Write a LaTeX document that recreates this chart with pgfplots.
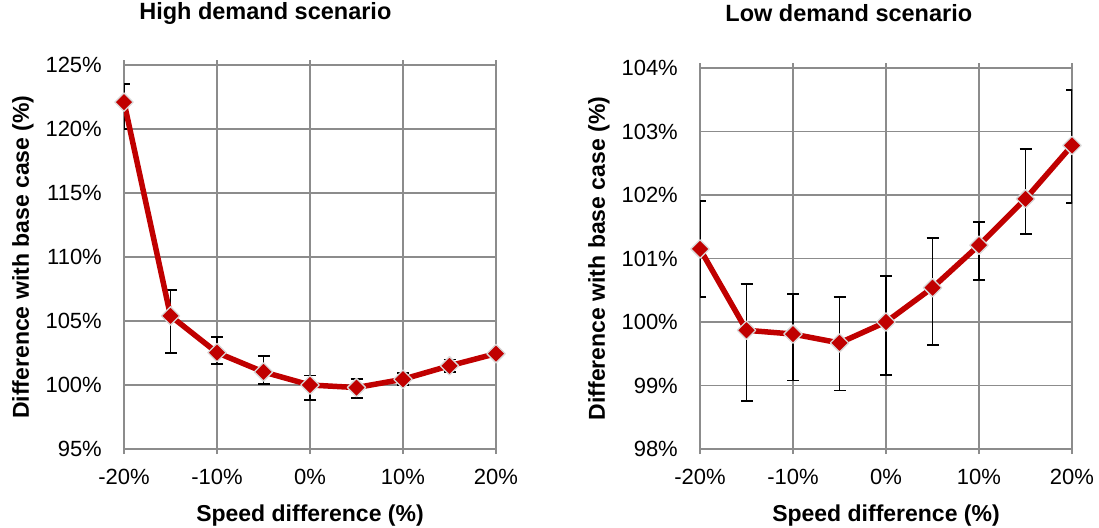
\documentclass[border=0pt]{standalone}
\usepackage{fontspec}
\setmainfont{Liberation Sans}
\usepackage{pgfplots}
\pgfplotsset{compat=1.18}
\usepackage{pgfplotstable}
\definecolor{gridgray}{HTML}{8C8C8C}
\definecolor{darkred}{HTML}{C00000}
\definecolor{markedge}{HTML}{D9D9D9}

\pgfplotstableread{
x   y      ep    em
-20 122.10 1.40  2.10
-15 105.40 2.00  2.90
-10 102.53 1.22  0.89
-5  101.02 1.22  0.94
0   100.00 0.75  1.15
5   99.80  0.64  0.82
10  100.45 0.49  0.47
15  101.50 0.50  0.50
20  102.45 0.15  0.15
}\highdata

\pgfplotstableread{
x   y      ep    em
-20 101.15 0.76  0.75
-15 99.87  0.73  1.11
-10 99.81  0.63  0.73
-5  99.67  0.72  0.75
0   100.00 0.73  0.84
5   100.54 0.78  0.90
10  101.21 0.36  0.55
15  101.94 0.79  0.56
20  102.78 0.87  0.91
}\lowdata

\pgfplotsset{
  myaxis/.style={
    scale only axis,
    width=372pt,
    anchor=south west,
    xmin=-20, xmax=20,
    xtick={-20,-10,0,10,20},
    xticklabels={-20\%,-10\%,0\%,10\%,20\%},
    grid=major,
    major grid style={gridgray, line width=1.5pt},
    axis line style={gridgray, line width=1.5pt},
    tick align=outside,
    major tick length=5pt,
    xtick style={gridgray, line width=1.5pt},
    ytick style={draw=none},
    ticklabel style={font=\fontsize{22}{26}\selectfont},
    yticklabel style={inner sep=0pt, anchor=east, xshift=-17pt},
    xticklabel style={inner sep=0pt, anchor=north, yshift=-15pt},
    xlabel={Speed difference (\%)},
    ylabel={Difference with base case (\%)},
    label style={font=\fontsize{23}{27}\selectfont\bfseries},
    xlabel style={at={([yshift=-72pt]axis description cs:0.5,0)}, anchor=base},
    ylabel style={at={([xshift=-101pt]axis description cs:0,0.5)}, anchor=center},
    title style={font=\fontsize{23.5}{27}\selectfont\bfseries, anchor=center},
  },
  errstyle/.style={only marks, mark=none, forget plot,
    error bars/.cd, y dir=both, y explicit,
    error bar style={draw=black, line width=1.8pt},
    error mark options={draw=black, line width=1.8pt, mark size=6pt, rotate=90}},
  linestyle/.style={darkred, line width=5.5pt, line join=round,
    mark=square*, mark size=6.5pt,
    mark options={fill=darkred, draw=markedge, line width=1.3pt, rotate=45}},
}

\begin{document}
\begin{tikzpicture}
\path[use as bounding box] (0,0) rectangle (1099pt,-527pt);

\begin{axis}[myaxis,
  at={(124pt,-449pt)},
  height=384pt,
  ymin=95, ymax=125,
  ytick={95,100,105,110,115,120,125},
  yticklabels={95\%,100\%,105\%,110\%,115\%,120\%,125\%},
  title={High demand scenario},
  title style={at={([yshift=46pt]axis description cs:0.38,1)}},
]
\addplot[errstyle] table[x=x, y=y, y error plus=ep, y error minus=em] {\highdata};
\addplot[linestyle] table[x=x, y=y] {\highdata};
\end{axis}

\begin{axis}[myaxis,
  at={(700pt,-449pt)},
  height=381pt,
  ymin=98, ymax=104,
  ytick={98,99,100,101,102,103,104},
  yticklabels={98\%,99\%,100\%,101\%,102\%,103\%,104\%},
  title={Low demand scenario},
  title style={at={([yshift=49pt]axis description cs:0.40,1)}},
]
\addplot[errstyle] table[x=x, y=y, y error plus=ep, y error minus=em] {\lowdata};
\addplot[linestyle] table[x=x, y=y] {\lowdata};
\end{axis}
\end{tikzpicture}
\end{document}
